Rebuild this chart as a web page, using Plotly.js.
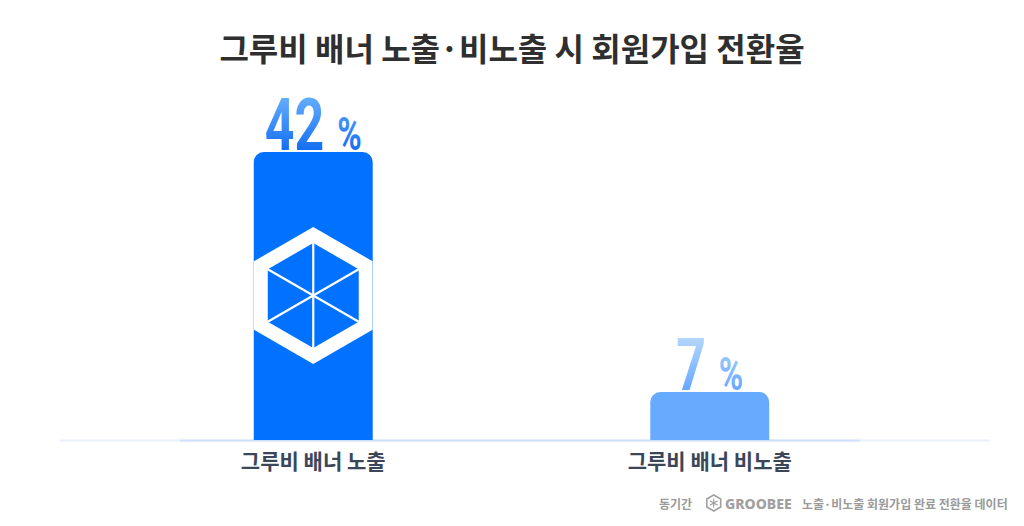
<!DOCTYPE html>
<html><head><meta charset="utf-8">
<script src="https://cdn.plot.ly/plotly-3.0.1.min.js"></script>
<style>html,body{margin:0;padding:0;background:#fff;}#chart{width:1024px;height:526px;}</style>
</head><body><div id="chart"></div>
<script>
// ---- data ----
const categories = ['그루비 배너 노출', '그루비 배너 비노출'];
const conversionRates = [42, 7];
const barColors = ['#0072ff', '#66abff'];
const labelColors = ['#3f8ef7', '#8fc1ff'];
const labelGradients = [['#62acff', '#1670f2'], ['#b3d6ff', '#68a9ff']];
const chartTitle = '그루비 배너 노출·비노출 시 회원가입 전환율';
const footerPeriod = '동기간';
const footerBrand = 'GROOBEE';
const footerNote = '노출·비노출 회원가입 완료 전환율 데이터';

// ---- layout geometry ----
const W = 1024, H = 526, L = 115.25, R = 115.75, T = 100, B = 86;
const pw = W - L - R, ph = H - T - B;
const px = x => (x - L) / pw;
const py = y => (H - B - y) / ph;

function hexPath(r) {
  const pts = [];
  for (let i = 0; i < 6; i++) {
    const a = Math.PI / 2 + i * Math.PI / 3;
    pts.push([r * Math.cos(a), r * Math.sin(a)]);
  }
  return 'M' + pts.map(p => p[0].toFixed(2) + ',' + p[1].toFixed(2)).join(' L') + ' Z';
}
function hexSpokes(r) {
  const out = [];
  for (let i = 0; i < 3; i++) {
    const a = Math.PI / 2 + i * Math.PI / 3;
    const x = r * Math.cos(a), y = r * Math.sin(a);
    out.push('M' + x.toFixed(2) + ',' + y.toFixed(2) + ' L' + (-x).toFixed(2) + ',' + (-y).toFixed(2));
  }
  return out;
}

const shapes = [];
// baseline glow
shapes.push({type: 'line', xref: 'paper', yref: 'paper', x0: px(60), x1: px(990), y0: py(440.5), y1: py(440.5),
  line: {color: 'rgba(205,222,248,0.45)', width: 2}, layer: 'below'});
shapes.push({type: 'line', xref: 'paper', yref: 'paper', x0: px(180), x1: px(860), y0: py(440.5), y1: py(440.5),
  line: {color: 'rgba(190,212,246,0.6)', width: 2}, layer: 'below'});
// hexagon emblem in first bar
const hexBase = {xref: 'x', xsizemode: 'pixel', xanchor: 0, yref: 'paper', ysizemode: 'pixel', yanchor: py(295.5), layer: 'above'};
shapes.push(Object.assign({type: 'path', path: hexPath(68.5), fillcolor: '#ffffff', line: {width: 0}}, hexBase));
shapes.push(Object.assign({type: 'path', path: hexPath(52.5), fillcolor: barColors[0], line: {width: 0}}, hexBase));
hexSpokes(52.5).forEach(p => shapes.push(Object.assign({type: 'path', path: p, line: {color: '#ffffff', width: 2.2}}, hexBase)));
// footer logo
const logoBase = {xref: 'paper', xsizemode: 'pixel', xanchor: px(714), yref: 'paper', ysizemode: 'pixel', yanchor: py(503), layer: 'above'};
shapes.push(Object.assign({type: 'path', path: hexPath(8), line: {color: '#a0a0a0', width: 1.6}}, logoBase));
hexSpokes(4.5).forEach(p => shapes.push(Object.assign({type: 'path', path: p, line: {color: '#a0a0a0', width: 1.2}}, logoBase)));

const footerFont = {family: 'Noto Sans CJK KR', size: 12, color: '#9a9a9a', weight: 700};
const annotations = [
  {text: footerPeriod, xref: 'paper', yref: 'paper', x: px(694), y: py(503), xanchor: 'right', yanchor: 'middle', showarrow: false, font: footerFont},
  {text: footerBrand, xref: 'paper', yref: 'paper', x: px(723), y: py(503), xanchor: 'left', yanchor: 'middle', showarrow: false,
    font: {family: 'Noto Sans', size: 14, color: '#a0a0a0', weight: 800}},
  {text: footerNote, xref: 'paper', yref: 'paper', x: px(1010), y: py(503), xanchor: 'right', yanchor: 'middle', showarrow: false, font: footerFont}
];

const trace = {
  type: 'bar',
  x: categories,
  y: conversionRates,
  width: 0.3,
  marker: {color: barColors, line: {width: 0}},
  texttemplate: '%{y} <span style="font-size:46px">%</span>',
  textposition: 'outside',
  constraintext: 'none',
  cliponaxis: false,
  textfont: {family: 'Roboto', size: 72, color: labelColors, weight: 700},
  hoverinfo: 'skip'
};

const layout = {
  width: W, height: H,
  margin: {l: L, r: R, t: T, b: B, pad: 0},
  paper_bgcolor: '#ffffff', plot_bgcolor: '#ffffff',
  showlegend: false,
  barcornerradius: 10,
  title: {text: chartTitle, x: 0.5, xref: 'container', xanchor: 'center', y: 1 - 50 / H, yref: 'container', yanchor: 'middle',
    font: {family: 'Noto Sans CJK KR', size: 32, color: '#2f2f2f', weight: 700}},
  xaxis: {type: 'category', range: [-0.5, 1.5], showgrid: false, zeroline: false, showline: false, ticks: '',
    tickfont: {family: 'Noto Sans CJK KR', size: 21, color: '#3b4759', weight: 700}, ticklabelstandoff: 7, fixedrange: true, automargin: false},
  yaxis: {visible: false, range: [0, 49.58], fixedrange: true, automargin: false},
  shapes: shapes,
  annotations: annotations
};

const LABEL_SX = 0.72, LABEL_DY = 19;
Plotly.newPlot('chart', [trace], layout, {displayModeBar: false, staticPlot: true}).then(gd => {
  const ns = 'http://www.w3.org/2000/svg';
  const svg = gd.querySelector('svg.main-svg');
  let defs = svg.querySelector('defs');
  if (!defs) { defs = document.createElementNS(ns, 'defs'); svg.insertBefore(defs, svg.firstChild); }
  labelGradients.forEach((g, i) => {
    const lg = document.createElementNS(ns, 'linearGradient');
    lg.setAttribute('id', 'lblgrad' + i);
    lg.setAttribute('x1', '0'); lg.setAttribute('y1', '0'); lg.setAttribute('x2', '0'); lg.setAttribute('y2', '1');
    [[0.18, g[0]], [0.78, g[1]]].forEach(([o, c]) => {
      const s = document.createElementNS(ns, 'stop');
      s.setAttribute('offset', o); s.setAttribute('stop-color', c);
      lg.appendChild(s);
    });
    defs.appendChild(lg);
  });
  gd.querySelectorAll('text.bartext').forEach((t, i) => {
    const bb = t.getBBox();
    const cx = bb.x + bb.width / 2, cy = bb.y + bb.height;
    const tr = t.getAttribute('transform') || '';
    t.setAttribute('transform', tr + ' translate(0,' + LABEL_DY + ') translate(' + cx + ',' + cy + ') scale(' + LABEL_SX + ',1) translate(' + (-cx) + ',' + (-cy) + ')');
    t.style.fill = 'url(#lblgrad' + i + ')';
  });
});
</script>
</body></html>
